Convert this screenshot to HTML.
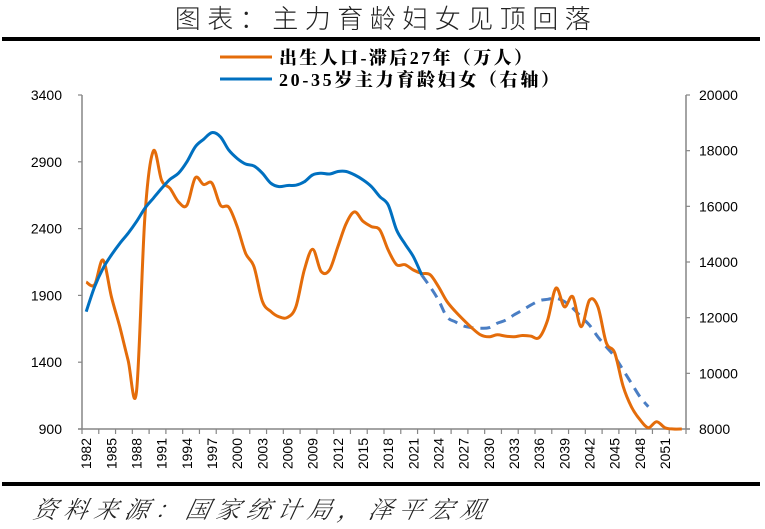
<!DOCTYPE html>
<html><head><meta charset="utf-8">
<style>
html,body{margin:0;padding:0;background:#fff;width:765px;height:529px;overflow:hidden;}
svg{display:block;font-family:"Liberation Sans","Noto Sans CJK SC",sans-serif;}
</style></head>
<body>
<svg id="chart" width="765" height="529" viewBox="0 0 765 529" xmlns="http://www.w3.org/2000/svg">
<text x="386" y="28" text-anchor="middle" font-size="26" letter-spacing="6.5" fill="#222" font-family="'Noto Sans CJK SC',sans-serif" font-weight="300">图表：主力育龄妇女见顶回落</text>
<rect x="2" y="37" width="758" height="4" fill="#000"/>
<rect x="2" y="482" width="758" height="4" fill="#000"/>
<text x="32" y="518" font-size="24" letter-spacing="6.5" font-style="italic" fill="#222" font-family="'Noto Serif CJK SC','Noto Sans CJK SC',serif" font-weight="300" transform="skewX(-12) translate(110,0)">资料来源：国家统计局，泽平宏观</text>
<g>
  <line x1="220" y1="57" x2="272" y2="57" stroke="#E46C0A" stroke-width="3"/>
  <text x="279" y="64" font-size="18" font-weight="900" fill="#000" textLength="253" font-family="'Liberation Serif','Noto Serif CJK SC',serif">出生人口-滞后27年（万人）</text>
  <line x1="220" y1="79" x2="272" y2="79" stroke="#0070C0" stroke-width="3"/>
  <text x="279" y="86" font-size="18" font-weight="900" fill="#000" textLength="280" font-family="'Liberation Serif','Noto Serif CJK SC',serif">20-35岁主力育龄妇女（右轴）</text>
</g>
<g id="axes"></g>
<g id="marks"></g>
</svg>
<script>
const years = [];
for (let y = 1982; y <= 2053; y++) years.push(y);
const leftTicks = [900, 1400, 1900, 2400, 2900, 3400];
const rightTicks = [8000, 10000, 12000, 14000, 16000, 18000, 20000];
const births = [2000,1980,2165,1890,1665,1415,1180,2490,2980,2760,2700,2600,2575,2780,2730,2740,2575,2560,2415,2215,2115,1855,1780,1740,1735,1815,2090,2245,2080,2090,2265,2440,2525,2455,2415,2390,2240,2130,2130,2090,2065,2055,1965,1855,1780,1715,1655,1605,1590,1605,1595,1590,1600,1595,1585,1715,1955,1815,1890,1665,1865,1815,1545,1470,1220,1065,970,910,955,910,900,900];
const womenActual = [12215,13110,13770,14250,14670,15030,15450,15930,16290,16650,16970,17190,17600,18140,18410,18650,18500,18020,17720,17520,17450,17190,16830,16710,16750,16760,16880,17130,17190,17160,17250,17250,17130,16950,16710,16350,16050,15150,14650,14190,13530];
const womenForecastYears = [];
for (let y = 2022; y <= 2049; y++) womenForecastYears.push(y);
const womenForecast = [13530,13110,12630,12030,11850,11700,11640,11620,11640,11800,11910,12100,12270,12450,12610,12660,12700,12580,12340,12030,11730,11310,10950,10600,10120,9640,9160,8800];

const NS = "http://www.w3.org/2000/svg";
const L = 82, R = 686, T = 95, B = 429;
const bw = (R - L) / years.length;
function xPos(year){ return L + (year - years[0] + 0.5) * bw; }
function yLeft(v){ return B - (v - 900) / (3400 - 900) * (B - T); }
function yRight(v){ return B - (v - 8000) / (20000 - 8000) * (B - T); }
function mk(tag, attrs, parent){ const e = document.createElementNS(NS, tag); for (const k in attrs) e.setAttribute(k, attrs[k]); parent.appendChild(e); return e; }
const axes = document.getElementById('axes');
const marks = document.getElementById('marks');
const axisColor = "#868686";

let e = mk('line', {x1:L, y1:T, x2:L, y2:B, stroke:axisColor, 'stroke-width':1.5}, axes);


e = mk('line', {x1:R, y1:T, x2:R, y2:B, stroke:axisColor, 'stroke-width':1.5}, axes);


e = mk('line', {x1:L-4, y1:B, x2:R+4, y2:B, stroke:axisColor, 'stroke-width':1.5}, axes);



leftTicks.forEach(v => {
  const y = yLeft(v);
  const t = mk('line', {x1:L-4, y1:y, x2:L, y2:y, stroke:axisColor, 'stroke-width':1.2}, axes);
  
  
  const tx = mk('text', {x:62, y:y+5, 'text-anchor':'end', 'font-size':14, fill:'#000'}, axes);
  tx.textContent = v;
  
  
});
rightTicks.forEach(v => {
  const y = yRight(v);
  const t = mk('line', {x1:R, y1:y, x2:R+4, y2:y, stroke:axisColor, 'stroke-width':1.2}, axes);
  
  
  const tx = mk('text', {x:699, y:y+5, 'text-anchor':'start', 'font-size':14, fill:'#000'}, axes);
  tx.textContent = v;
  
  
});
for (let i = 0; i <= years.length; i += 2) {
  const x = L + i * bw;
  const t = mk('line', {x1:x, y1:B, x2:x, y2:B+5, stroke:axisColor, 'stroke-width':1.2}, axes);
  
  
}
years.forEach((yr, i) => {
  if ((yr - 1982) % 3 !== 0 || yr > 2051) return;
  const x = xPos(yr) + 5;
  const tx = mk('text', {x:x, y:438, 'text-anchor':'end', 'font-size':14, fill:'#000', transform:`rotate(-90 ${x} 438)`}, axes);
  tx.textContent = yr;
  
  
});

function path(xs, ys){
  let d = 'M' + xs[0].toFixed(1) + ' ' + ys[0].toFixed(1);
  for (let i = 0; i < xs.length - 1; i++) {
    const x0 = xs[Math.max(i-1,0)], y0 = ys[Math.max(i-1,0)];
    const x1 = xs[i], y1 = ys[i], x2 = xs[i+1], y2 = ys[i+1];
    const x3 = xs[Math.min(i+2,xs.length-1)], y3 = ys[Math.min(i+2,xs.length-1)];
    const k = 1/6;
    const c1x = x1 + (x2 - x0) * k, c1y = y1 + (y2 - y0) * k;
    const c2x = x2 - (x3 - x1) * k, c2y = y2 - (y3 - y1) * k;
    d += ` C${c1x.toFixed(1)} ${c1y.toFixed(1)} ${c2x.toFixed(1)} ${c2y.toFixed(1)} ${x2.toFixed(1)} ${y2.toFixed(1)}`;
  }
  return d;
}
e = mk('path', {d: path(womenForecastYears.map(xPos), womenForecast.map(yRight)), fill:'none', stroke:'#4A7EC4', 'stroke-width':3, 'stroke-dasharray':'10 7', 'stroke-linejoin':'round'}, marks);


e = mk('path', {d: path(years.map(xPos), births.map(yLeft)), fill:'none', stroke:'#E46C0A', 'stroke-width':3, 'stroke-linejoin':'round'}, marks);


e = mk('path', {d: path(womenActual.map((v,i)=>xPos(years[i])), womenActual.map(yRight)), fill:'none', stroke:'#0070C0', 'stroke-width':3, 'stroke-linejoin':'round'}, marks);


</script>
</body></html>
